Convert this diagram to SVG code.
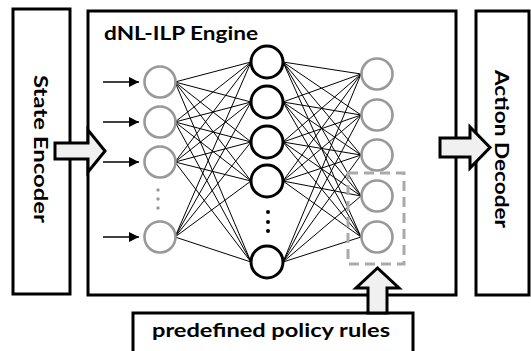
<svg xmlns="http://www.w3.org/2000/svg" width="531" height="351" viewBox="0 0 531 351">
  <style>
    .box { fill: #ffffff; stroke: #000000; stroke-width: 3; }
    .label { font-family: Lato, "Open Sans", "Liberation Sans", sans-serif; font-weight: bold; fill: #000000; }
    .io { fill: #ffffff; stroke: #999999; stroke-width: 2.6; }
    .hid { fill: #ffffff; stroke: #000000; stroke-width: 3; }
    .edge { stroke: #000000; stroke-width: 1; fill: none; }
    .feed { stroke: #000000; stroke-width: 1.4; fill: none; marker-end: url(#tip); }
    .block { fill: #f0f0f0; stroke: #000000; stroke-width: 3; stroke-linejoin: miter; }
    .gdot { fill: #999999; }
    .bdot { fill: #000000; }
  </style>
  <defs>
    <marker id="tip" viewBox="0 0 10 10" refX="10" refY="5" markerWidth="10" markerHeight="10" markerUnits="userSpaceOnUse" orient="auto">
      <path d="M0,0 L10,5 L0,10 Z" fill="#000000"/>
    </marker>
  </defs>

  <!-- State encoder -->
  <g id="state-encoder">
    <rect class="box" x="13" y="9" width="57" height="285"/>
    <text class="label" font-size="19" transform="translate(34,75) rotate(90)" textLength="148" lengthAdjust="spacingAndGlyphs">State Encoder</text>
  </g>

  <!-- Engine frame -->
  <g id="engine">
    <rect class="box" x="88" y="11" width="368" height="284"/>
    <text class="label" font-size="19" x="104" y="40" textLength="154" lengthAdjust="spacingAndGlyphs">dNL-ILP Engine</text>
  </g>

  <!-- Action decoder -->
  <g id="action-decoder">
    <rect class="box" x="476" y="11" width="53" height="284"/>
    <text class="label" font-size="19" transform="translate(495,70) rotate(90)" textLength="158" lengthAdjust="spacingAndGlyphs">Action Decoder</text>
  </g>

  <!-- Policy rules -->
  <g id="policy-rules">
    <rect class="box" x="133" y="313" width="280" height="50"/>
    <text class="label" font-size="19" x="152" y="337" textLength="238" lengthAdjust="spacingAndGlyphs">predefined policy rules</text>
  </g>

  <!-- Connectors: layer edges, input feeds, block arrows -->
  <g id="connectors">
    <!-- input -> hidden -->
    <g id="edges-in">
      <path class="edge" d="M175,82 L251,62 M175,82 L251,102 M175,82 L251,142 M175,82 L251,181 M175,82 L251,262"/>
      <path class="edge" d="M175,122 L251,62 M175,122 L251,102 M175,122 L251,142 M175,122 L251,181 M175,122 L251,262"/>
      <path class="edge" d="M175,162 L251,62 M175,162 L251,102 M175,162 L251,142 M175,162 L251,181 M175,162 L251,262"/>
      <path class="edge" d="M175,237 L251,62 M175,237 L251,102 M175,237 L251,142 M175,237 L251,181 M175,237 L251,262"/>
    </g>
    <!-- hidden -> output -->
    <g id="edges-out">
      <path class="edge" d="M283,62 L361,74 M283,62 L361,115 M283,62 L361,155 M283,62 L361,196 M283,62 L361,237"/>
      <path class="edge" d="M283,102 L361,74 M283,102 L361,115 M283,102 L361,155 M283,102 L361,196 M283,102 L361,237"/>
      <path class="edge" d="M283,142 L361,74 M283,142 L361,115 M283,142 L361,155 M283,142 L361,196 M283,142 L361,237"/>
      <path class="edge" d="M283,181 L361,74 M283,181 L361,115 M283,181 L361,155 M283,181 L361,196 M283,181 L361,237"/>
      <path class="edge" d="M283,262 L361,74 M283,262 L361,115 M283,262 L361,155 M283,262 L361,196 M283,262 L361,237"/>
    </g>
    <!-- feeds into the input layer -->
    <line class="feed" x1="103" y1="82" x2="139" y2="82"/>
    <line class="feed" x1="103" y1="122" x2="139" y2="122"/>
    <line class="feed" x1="103" y1="162" x2="139" y2="162"/>
    <line class="feed" x1="103" y1="237" x2="139" y2="237"/>
    <!-- block arrows -->
    <path id="arrow-in" class="block" d="M55,143 L88,143 L88,130 L105,151 L88,172 L88,159 L55,159 Z"/>
    <path id="arrow-out" class="block" d="M440,138 L470,138 L470,127 L490,147.5 L470,168 L470,157 L440,157 Z"/>
    <path id="arrow-rules" class="block" d="M368,313 L368,288 L356,288 L377.5,268 L399,288 L387,288 L387,313 Z"/>
  </g>

  <!-- Input layer -->
  <g id="input-layer">
    <circle class="io" cx="160" cy="82" r="15.5"/>
    <circle class="io" cx="160" cy="122" r="15.5"/>
    <circle class="io" cx="160" cy="162" r="15.5"/>
    <circle class="gdot" cx="158" cy="190" r="1.7"/>
    <circle class="gdot" cx="158" cy="199" r="1.7"/>
    <circle class="gdot" cx="158" cy="208" r="1.7"/>
    <circle class="io" cx="160" cy="237" r="15.5"/>
  </g>

  <!-- Hidden layer -->
  <g id="hidden-layer">
    <circle class="hid" cx="267" cy="62" r="16"/>
    <circle class="hid" cx="267" cy="102" r="16"/>
    <circle class="hid" cx="267" cy="142" r="16"/>
    <circle class="hid" cx="267" cy="181" r="16"/>
    <circle class="bdot" cx="268" cy="212" r="2"/>
    <circle class="bdot" cx="268" cy="222" r="2"/>
    <circle class="bdot" cx="268" cy="231" r="2"/>
    <circle class="hid" cx="267" cy="262" r="16"/>
  </g>

  <!-- Output layer -->
  <g id="output-layer">
    <circle class="io" cx="377" cy="74" r="15.5"/>
    <circle class="io" cx="377" cy="115" r="15.5"/>
    <circle class="io" cx="377" cy="155" r="15.5"/>
    <circle class="io" cx="377" cy="196" r="15.5"/>
    <circle class="io" cx="377" cy="237" r="15.5"/>
  </g>

  <!-- Rule-constrained outputs -->
  <g id="rule-group">
    <rect x="348" y="173" width="56" height="91" fill="none" stroke="#aaaaaa" stroke-width="3" stroke-dasharray="10 6"/>
  </g>
</svg>
